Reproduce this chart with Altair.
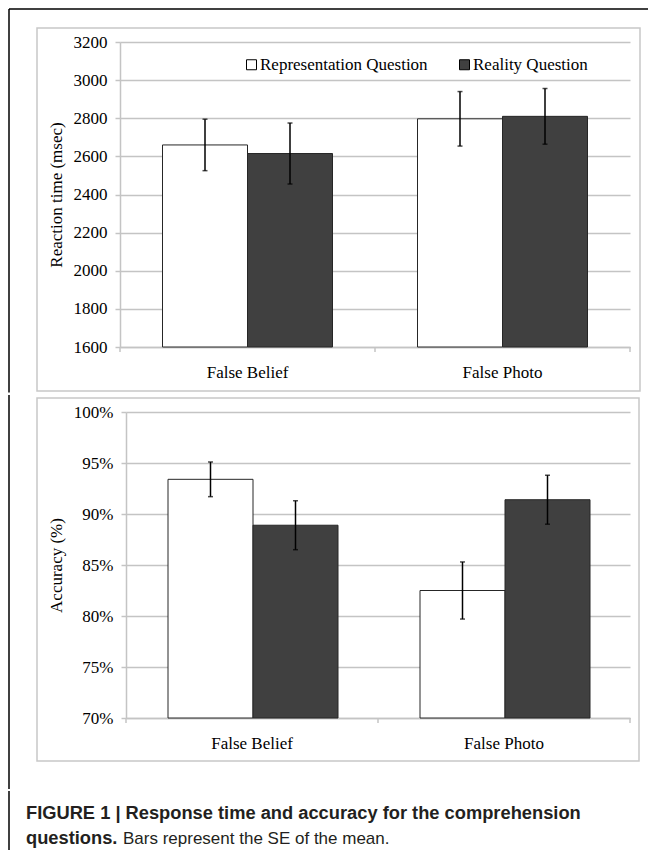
import altair as alt
import pandas as pd

# ---------------- data ----------------
categories = ["False Belief", "False Photo"]
questions = ["Representation Question", "Reality Question"]

rt_mean = [2660, 2615, 2797, 2810]
rt_se = [135, 160, 143, 146]
rt_ticks = [1600, 1800, 2000, 2200, 2400, 2600, 2800, 3000, 3200]

acc_mean = [93.4, 88.9, 82.5, 91.4]
acc_se = [1.7, 2.4, 2.8, 2.4]
acc_ticks = [70, 75, 80, 85, 90, 95, 100]

caption_bold_1 = "FIGURE 1 | Response time and accuracy for the comprehension"
caption_bold_2 = "questions."
caption_regular_2 = "Bars represent the SE of the mean."

SERIF = "Liberation Serif"
SANS = "Liberation Sans"
FS = 17
GRID = "#c4c4c4"
BOXC = "#c8c8c8"
DARK = "#404040"

W = 510  # common plot width; all panels share the plot origin at page x = 119


def make_df(means, ses):
    rows = []
    k = 0
    for c in categories:
        for q in questions:
            rows.append({"category": c, "question": q, "mean": means[k],
                         "lo": means[k] - ses[k], "hi": means[k] + ses[k]})
            k += 1
    return pd.DataFrame(rows)


one = pd.DataFrame({"d": [0]})


def panel(df, ymin, ymax, ticks, ytitle, h, x0, label_expr, geo):
    base = alt.Chart(df)
    xenc = alt.X("category:N", sort=categories, title=None,
                 scale=alt.Scale(paddingInner=1 / 3, paddingOuter=1 / 6,
                                 range=[x0, W]),
                 axis=alt.Axis(labelAngle=0, ticks=False, grid=False,
                               domainColor=GRID, domainWidth=1.5,
                               labelPadding=17))
    xo = alt.XOffset("question:N", sort=questions,
                     scale=alt.Scale(paddingInner=0, paddingOuter=0))

    def ychan(field):
        axis_kw = dict(values=ticks, grid=True, gridColor=GRID, gridWidth=1.5,
                       domainColor=GRID, domainWidth=1.5, tickColor=GRID,
                       tickWidth=1.5, tickSize=5, offset=-x0,
                       labelPadding=8, titlePadding=geo["titlePad"])
        if label_expr:
            axis_kw["labelExpr"] = label_expr
        else:
            axis_kw["format"] = "d"
        return alt.Y(field, title=ytitle,
                     scale=alt.Scale(domain=[ymin, ymax], nice=False, zero=False),
                     axis=alt.Axis(**axis_kw))

    bars = base.mark_bar(stroke="#262626", strokeWidth=1).encode(
        x=xenc, xOffset=xo, y=ychan("mean:Q"), y2=alt.datum(ymin),
        fill=alt.Fill("question:N",
                      scale=alt.Scale(domain=questions, range=["white", DARK]),
                      legend=alt.Legend(title=None, orient="none",
                                        legendX=geo["legX"], legendY=geo["legY"],
                                        direction="horizontal", symbolType="square",
                                        symbolSize=100, symbolStrokeColor="black",
                                        symbolStrokeWidth=1, labelOffset=0,
                                        columnPadding=28, padding=0,
                                        labelLimit=400)))
    rules = base.mark_rule(color="black", strokeWidth=1.5).encode(
        x=xenc, xOffset=xo, y=ychan("lo:Q"), y2="hi:Q")
    cap_lo = base.mark_tick(color="black", thickness=1.5, size=5).encode(
        x=xenc, xOffset=xo, y=ychan("lo:Q"))
    cap_hi = base.mark_tick(color="black", thickness=1.5, size=5).encode(
        x=xenc, xOffset=xo, y=ychan("hi:Q"))

    deco = alt.Chart(one)
    extra_ticks = [
        deco.mark_rule(color=GRID, strokeWidth=1.5).encode(
            x=alt.value(px), y=alt.value(h), y2=alt.value(h + 5))
        for px in (x0, (x0 + W) / 2, W)
    ]
    box = deco.mark_rect(fillOpacity=0, stroke=BOXC, strokeWidth=1.5).encode(
        x=alt.value(geo["bx1"]), x2=alt.value(geo["bx2"]),
        y=alt.value(geo["by1"]), y2=alt.value(geo["by2"]))
    left_line = deco.mark_rule(color="black", strokeWidth=1.5).encode(
        x=alt.value(-111), y=alt.value(geo["fy1"]), y2=alt.value(geo["fy2"]))
    layers = [box, left_line] + extra_ticks + [bars, rules, cap_lo, cap_hi]
    if geo.get("top"):
        top_line = deco.mark_rule(color="black", strokeWidth=1.5).encode(
            x=alt.value(-111), x2=alt.value(528), y=alt.value(geo["fy1"]))
        layers.append(top_line)
    return alt.layer(*layers).properties(width=W, height=h)


# top panel: plot origin at page (119, 42)
top = panel(make_df(rt_mean, rt_se), 1600, 3200, rt_ticks, "Reaction time (msec)",
            305, 0, None,
            dict(titlePad=8, legX=123, legY=14,
                 bx1=-83, bx2=520, by1=-14, by2=349,
                 fy1=-33, fy2=350.5, top=True))

# bottom panel: plot origin at page (119, 412); axis drawn at page x = 125
bottom = panel(make_df(acc_mean, acc_se), 70, 100, acc_ticks, "Accuracy (%)",
               306, 6, "datum.value + '%'",
               dict(titlePad=8, legX=123, legY=16,
                    bx1=-83, bx2=519, by1=-14, by2=349,
                    fy1=-17, fy2=377))

# caption (origin also at page x = 119)
cap = alt.Chart(one)
caption = alt.layer(
    cap.mark_rule(color="black", strokeWidth=1.5).encode(
        x=alt.value(-111), y=alt.value(0), y2=alt.value(59)),
    cap.mark_text(text=caption_bold_1, font=SANS, fontSize=18.3, fontWeight="bold",
                  align="left", baseline="middle", color="#231f20").encode(
        x=alt.value(-94), y=alt.value(23)),
    cap.mark_text(text=caption_bold_2, font=SANS, fontSize=18.3, fontWeight="bold",
                  align="left", baseline="middle", color="#231f20").encode(
        x=alt.value(-94), y=alt.value(48)),
    cap.mark_text(text=caption_regular_2, font=SANS, fontSize=17,
                  align="left", baseline="middle", color="#231f20").encode(
        x=alt.value(3), y=alt.value(48)),
).properties(width=400, height=55)

chart = alt.vconcat(top, bottom, caption, spacing=0).properties(
    padding=0, background="white"
).configure_view(stroke=None).configure_concat(spacing=0).configure_axis(
    labelFont=SERIF, labelFontSize=FS, labelColor="black",
    titleFont=SERIF, titleFontSize=FS, titleFontWeight="normal", titleColor="black"
).configure_legend(
    labelFont=SERIF, labelFontSize=FS, labelColor="black"
)

chart.save("out.html", embed_options={"renderer": "svg", "actions": False})
